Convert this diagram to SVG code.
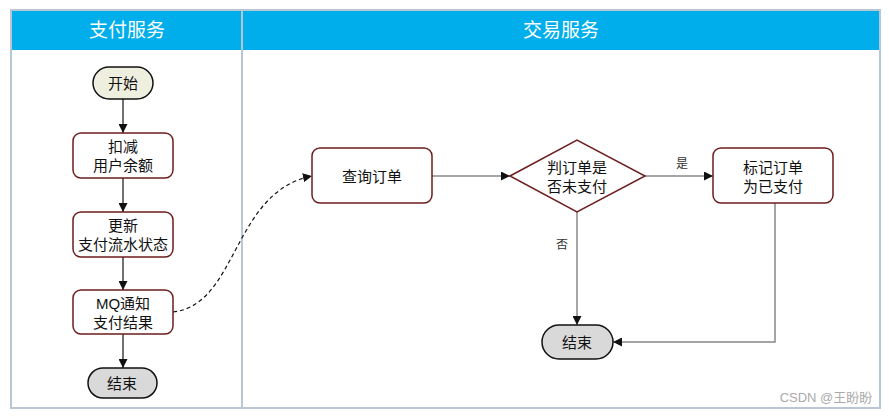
<svg xmlns="http://www.w3.org/2000/svg" width="889" height="416" viewBox="0 0 889 416">
<defs>
<style>
text{font-family:"Liberation Sans","Noto Sans CJK SC",sans-serif;font-size:15px;fill:#111;text-anchor:middle;dominant-baseline:central}
.hdr{fill:#fff;font-size:19px}
.proc{fill:#fff;stroke:#6e1d1d;stroke-width:1.5}
.term{stroke:#111;stroke-width:1.5}
.lane{fill:#fff;stroke:#b9c6d3;stroke-width:2}
.c{fill:none;stroke:#111;stroke-width:1.2}
.g{fill:none;stroke:#888;stroke-width:1.5}
.lbl{font-size:12px;fill:#333}
</style>
<marker id="ah" viewBox="0 0 10 10" refX="10" refY="5" markerWidth="9" markerHeight="9" markerUnits="userSpaceOnUse" orient="auto">
<path d="M0,0 L10,5 L0,10 z" fill="#111"/>
</marker>
</defs>
<rect width="889" height="416" fill="#fff"/>
<g id="lanes">
<rect class="lane" x="11" y="10" width="231" height="398"/>
<rect class="lane" x="242" y="10" width="638" height="398"/>
<rect x="12" y="11" width="229" height="39" fill="#00aeec"/>
<rect x="243" y="11" width="636" height="39" fill="#00aeec"/>
<text class="hdr" x="127" y="30">支付服务</text>
<text class="hdr" x="561" y="30">交易服务</text>
</g>
<g id="connectors">
<path class="c" d="M123,99 V133" marker-end="url(#ah)"/>
<path class="c" d="M123,178 V212" marker-end="url(#ah)"/>
<path class="c" d="M123,257 V290" marker-end="url(#ah)"/>
<path class="c" d="M123,334 V368" marker-end="url(#ah)"/>
<path class="c" d="M173,312 C238,305 232,192 312,176" stroke-dasharray="4,3" marker-end="url(#ah)"/>
<path class="g" d="M432,176 H510" marker-end="url(#ah)"/>
<path class="g" d="M645,176 H713" marker-end="url(#ah)"/>
<path class="g" d="M577,212 V325" marker-end="url(#ah)"/>
<path class="g" d="M775,203 V342 H613" marker-end="url(#ah)"/>
<text class="lbl" x="682" y="164">是</text>
<text class="lbl" x="562" y="245">否</text>
</g>
<g id="start">
<rect class="term" x="93" y="67" width="60" height="32" rx="16" fill="#efefe0"/>
<text x="123" y="83">开始</text>
</g>
<g id="deduct">
<rect class="proc" x="73" y="133" width="100" height="45" rx="8"/>
<text x="123" y="146">扣减</text>
<text x="123" y="165">用户余额</text>
</g>
<g id="update">
<rect class="proc" x="73" y="212" width="100" height="45" rx="8"/>
<text x="123" y="225">更新</text>
<text x="123" y="244">支付流水状态</text>
</g>
<g id="mq">
<rect class="proc" x="73" y="290" width="100" height="44" rx="8"/>
<text x="123" y="303">MQ通知</text>
<text x="123" y="322">支付结果</text>
</g>
<g id="end1">
<rect class="term" x="88" y="368" width="69" height="30" rx="15" fill="#d9d9d9"/>
<text x="122" y="383">结束</text>
</g>
<g id="query">
<rect class="proc" x="312" y="148" width="120" height="55" rx="8"/>
<text x="372" y="176">查询订单</text>
</g>
<g id="decide">
<polygon class="proc" points="510,176 577,140 645,176 577,212"/>
<text x="577" y="167">判订单是</text>
<text x="577" y="186">否未支付</text>
</g>
<g id="mark">
<rect class="proc" x="713" y="148" width="120" height="55" rx="8"/>
<text x="773" y="167">标记订单</text>
<text x="773" y="186">为已支付</text>
</g>
<g id="end2">
<rect class="term" x="542" y="325" width="71" height="34" rx="17" fill="#d9d9d9"/>
<text x="577" y="342">结束</text>
</g>
<text x="826" y="397" style="font-size:13px;fill:#aaa">CSDN @王盼盼</text>
</svg>
